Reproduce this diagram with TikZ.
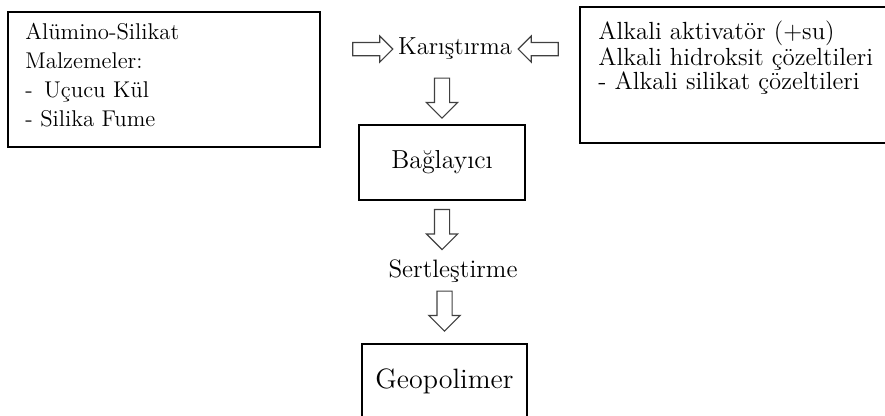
\documentclass[tikz,border=0pt]{standalone}
\usepackage{fontspec}
\usetikzlibrary{shapes.arrows, positioning}
\tikzstyle{box}     = [draw, line width=1pt, rectangle, inner sep=0pt, align=center]
\tikzstyle{boxtext} = [inner sep=0pt, align=left]
\tikzstyle{steptext} = [inner sep=0pt]
\tikzstyle{harrow}  = [draw=black!75, line width=0.6pt, single arrow, inner sep=3pt, minimum height=20pt, single arrow head extend=3.25pt]
\tikzstyle{varrow}  = [harrow, shape border rotate=270, inner sep=3.5pt, single arrow head extend=4pt]

\begin{document}
\begin{tikzpicture}[x=0.5pt, y=-0.5pt]
\clip (0,0) rectangle (885,416);

% input boxes
\node[box, minimum width=156pt, minimum height=67.5pt] (malz) at (164,79.5) {};
\node[boxtext, anchor=north west, font=\fontsize{11.4}{14.5}\selectfont] (malztxt) at (25,23)
  {Alümino-Silikat\\ Malzemeler:\\ -\enspace Uçucu Kül\\ - Silika Fume};

\node[box, minimum width=157.5pt, minimum height=68pt] (aktiv) at (737.5,75) {};
\node[boxtext, anchor=north west, font=\fontsize{12.4}{11.8}\selectfont] (aktivtxt) at (598,21)
  {Alkali aktivatör (+su)\\ Alkali hidroksit çözeltileri\\ - Alkali silikat çözeltileri};

% mixing
\node[steptext, anchor=base, font=\fontsize{12.3}{14}\selectfont] (karis) at (455,55) {Karıştırma};
\node[harrow, left=2pt of karis] (ok1) {};
\node[harrow, shape border rotate=180, right=2.5pt of karis] (ok2) {};

% binder
\node[box, minimum width=83pt, minimum height=37.5pt, font=\fontsize{13}{15}\selectfont] (bagl) at (442,162.5) {Bağlayıcı};
\node[varrow, above=2.5pt of bagl] (ok3) {};
\node[varrow, below=4pt of bagl] (ok4) {};

% curing
\node[steptext, anchor=base, font=\fontsize{12.6}{14}\selectfont] (sert) at (453,278) {Sertleştirme};

% product
\node[box, minimum width=82.5pt, minimum height=37.5pt, font=\fontsize{14}{16}\selectfont] (geo) at (444.5,381.5) {Geopolimer};
\node[varrow, above=5.5pt of geo] (ok5) {};

\end{tikzpicture}
\end{document}
